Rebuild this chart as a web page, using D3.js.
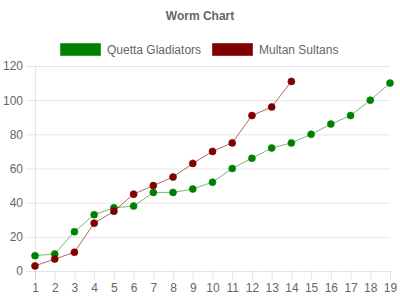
<!DOCTYPE html>
<html>
<head>
<meta charset="utf-8">
<script src="https://cdnjs.cloudflare.com/ajax/libs/d3/7.8.5/d3.min.js"></script>
<style>
  body { margin: 0; background: #fff; }
  svg { display: block; font-family: "Liberation Sans", Arial, sans-serif; }
</style>
</head>
<body>
<div id="chart"></div>
<script>
// Overs and cumulative runs
const overs = d3.range(1, 20);
const quettaRuns = [9, 10, 23, 33, 37, 38, 46, 46, 48, 52, 60, 66, 72, 75, 80, 86, 91, 100, 110];
const multanRuns = [3, 7, 11, 28, 35, 45, 50, 55, 63, 70, 75, 91, 96, 111];
const yTicks = [0, 20, 40, 60, 80, 100, 120];

const series = [
    { name: "Quetta Gladiators", values: quettaRuns, fill: "#008000", line: "rgba(0,128,0,0.55)" },
    { name: "Multan Sultans", values: multanRuns, fill: "#800000", line: "rgba(128,0,0,0.6)" }
];

const width = 400, height = 300;
const svg = d3.select("#chart").append("svg")
    .attr("width", width)
    .attr("height", height);

const x = d3.scaleLinear().domain([1, 19]).range([35, 390]);
const y = d3.scaleLinear().domain([0, 120]).range([271, 66]);

// title
svg.append("text")
    .attr("x", 200).attr("y", 20)
    .attr("text-anchor", "middle")
    .style("font-size", "12px").style("font-weight", "bold")
    .style("fill", "#666")
    .text("Worm Chart");

// legend
const legend = svg.append("g");
const legX = [60, 212];
series.forEach((s, i) => {
    legend.append("rect")
        .attr("x", legX[i] + 0.5).attr("y", 43.5)
        .attr("width", 40).attr("height", 12)
        .attr("fill", s.fill).attr("stroke", s.line).attr("stroke-width", 1);
    legend.append("text")
        .attr("x", legX[i] + 47).attr("y", 54)
        .style("font-size", "12px").style("fill", "#666")
        .text(s.name);
});

// y gridlines + axis
const yAxis = d3.axisLeft(y).tickValues(yTicks).tickSize(-(390 - 35)).tickPadding(12);
const gy = svg.append("g").attr("transform", "translate(35,0)").call(yAxis);
gy.select(".domain").remove();
gy.selectAll(".tick line").attr("stroke", "rgba(0,0,0,0.1)").attr("x1", -9);
gy.selectAll(".tick text").style("font-size", "12px").style("fill", "#666")
    .style("font-family", "Liberation Sans, Arial, sans-serif");

// x axis
const xAxis = d3.axisBottom(x).tickValues(overs).tickSize(9).tickPadding(3).tickFormat(d3.format("d"));
const gx = svg.append("g").attr("transform", "translate(0,271)").call(xAxis);
gx.select(".domain").remove();
gx.selectAll(".tick line").attr("stroke", "rgba(0,0,0,0.1)");
gx.selectAll(".tick text").style("font-size", "12px").style("fill", "#666")
    .style("font-family", "Liberation Sans, Arial, sans-serif");

// y axis line
svg.append("line")
    .attr("x1", 35.5).attr("x2", 35.5)
    .attr("y1", y(120)).attr("y2", y(0) + 9)
    .attr("stroke", "rgba(0,0,0,0.1)");

// lines + points
const line = d3.line().x((d, i) => x(overs[i])).y(d => y(d));
series.forEach(s => {
    svg.append("path")
        .datum(s.values)
        .attr("d", line)
        .attr("fill", "none")
        .attr("stroke", s.line)
        .attr("stroke-width", 1);
    svg.append("g").selectAll("circle")
        .data(s.values)
        .enter().append("circle")
        .attr("cx", (d, i) => x(overs[i]))
        .attr("cy", d => y(d))
        .attr("r", 3.5)
        .attr("fill", s.fill)
        .attr("stroke", s.line)
        .attr("stroke-width", 1);
});
</script>
</body>
</html>
